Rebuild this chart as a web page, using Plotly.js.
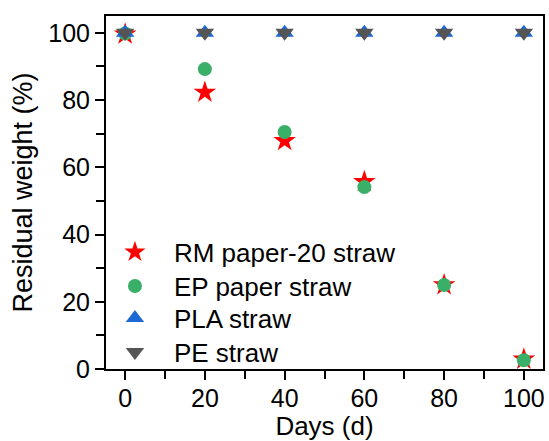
<!DOCTYPE html>
<html>
<head>
<meta charset="utf-8">
<script src="https://cdn.plot.ly/plotly-3.0.1.min.js"></script>
<style>html,body{margin:0;padding:0;background:#fff;}#chart{width:549px;height:441px;}</style>
</head>
<body>
<div id="chart"></div>
<script>
const days = [0, 20, 40, 60, 80, 100];
const rmPaper20 = [99.6, 82.3, 67.9, 55.7, 25.0, 2.9];
const epPaper = [99.8, 89.2, 70.5, 54.1, 25.0, 2.6];
const plaStraw = [100, 100, 100, 100, 100, 100];
const peStraw = [100, 100, 100, 100, 100, 100];
const seriesNames = ['RM paper-20 straw', 'EP paper straw', 'PLA straw', 'PE straw'];
const xTicks = [0, 20, 40, 60, 80, 100];
const yTicks = [0, 20, 40, 60, 80, 100];

const font = 'Liberation Sans, Arial, sans-serif';
function tr(name, y, symbol, color, size, leg) {
  return {x: days, y: y, name: name, type: 'scatter', mode: 'markers', legend: leg,
    marker: {symbol: symbol, color: color, size: size, line: {width: 0}}};
}
const data = [
  tr(seriesNames[0], rmPaper20, 'star', '#ff0000', 17, 'legend'),
  tr(seriesNames[1], epPaper, 'circle', '#3aaf68', 14, 'legend2'),
  tr(seriesNames[2], plaStraw, 'triangle-up', '#1c68d4', 16, 'legend3'),
  tr(seriesNames[3], peStraw, 'triangle-down', '#555555', 16, 'legend4')
];
function leg(y) {
  return {x: -0.023, y: y, xanchor: 'left', yanchor: 'middle', bgcolor: 'rgba(0,0,0,0)',
    font: {family: font, size: 26, color: '#000'}, itemsizing: 'trace', itemwidth: 68};
}
const axisCommon = {
  showline: true, linecolor: '#000', linewidth: 2, mirror: true,
  ticks: 'outside', ticklen: 9, tickwidth: 2, tickcolor: '#000',
  showgrid: false, zeroline: false,
  tickfont: {family: font, size: 25, color: '#000'},
  minor: {dtick: 10, ticks: 'outside', ticklen: 8, tickwidth: 2, tickcolor: '#000', showgrid: false}
};
const layout = {
  width: 549, height: 441,
  margin: {l: 106, r: 6, t: 16, b: 72},
  paper_bgcolor: '#fff', plot_bgcolor: '#fff',
  showlegend: true,
  legend: leg(0.331), legend2: leg(0.235), legend3: leg(0.144), legend4: leg(0.048),
  xaxis: Object.assign({}, axisCommon, {range: [-4.8, 104.8], tickmode: 'array', tickvals: xTicks,
    ticklabelstandoff: -3,
    title: {text: 'Days (d)', font: {family: font, size: 26, color: '#000'}, standoff: 6}}),
  yaxis: Object.assign({}, axisCommon, {range: [0, 105], tickmode: 'array', tickvals: yTicks,
    title: {text: 'Residual weight (%)', font: {family: font, size: 27, color: '#000'}, standoff: 8}})
};
Plotly.newPlot('chart', data, layout, {displayModeBar: false, staticPlot: true});
</script>
</body>
</html>
